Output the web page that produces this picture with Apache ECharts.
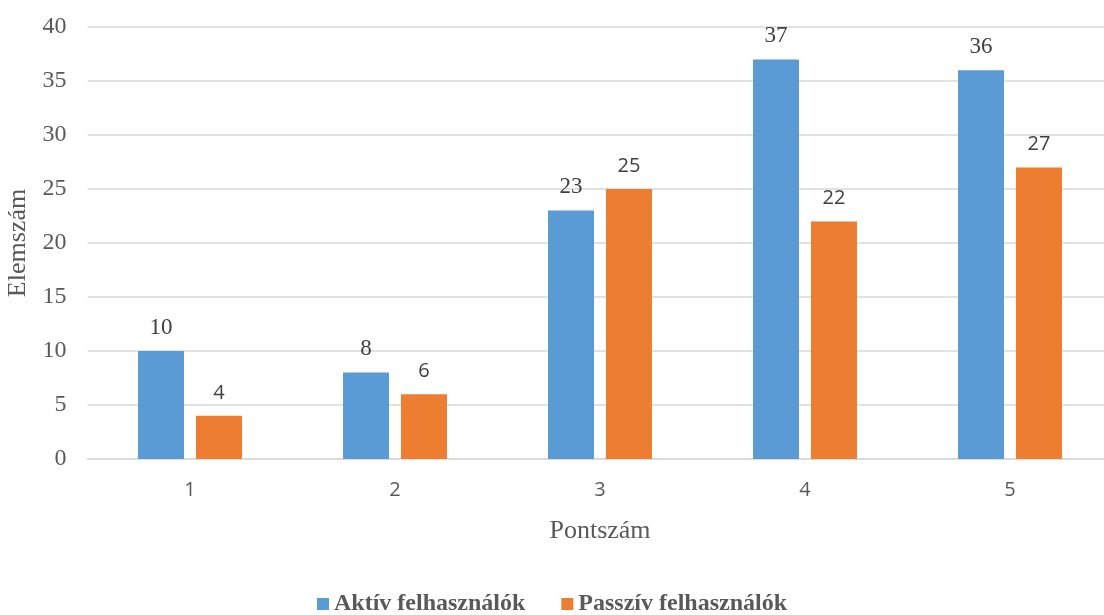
<!DOCTYPE html>
<html>
<head>
<meta charset="utf-8">
<script src="https://cdn.jsdelivr.net/npm/echarts@6/dist/echarts.min.js"></script>
<style>
	html, body { margin: 0; padding: 0; background: #fff; }
	#chart { width: 1104px; height: 615px; }
</style>
</head>
<body>
<div id="chart"></div>
<script>
// adatok
var categories = ['1', '2', '3', '4', '5'];
var aktiv = [10, 8, 23, 37, 36];
var passziv = [4, 6, 25, 22, 27];
var seriesNames = ['Aktív felhasználók', 'Passzív felhasználók'];

var myChart = echarts.init(document.getElementById('chart'));
var option = {
	backgroundColor: '#fff',
	animation: false,
	legend: {
		bottom: -6,
		left: 'center',
		itemWidth: 12,
		itemHeight: 12,
		itemGap: 36,
		icon: 'rect',
		textStyle: {
			color: '#595959',
			fontSize: 24,
			fontWeight: 'bold',
			fontFamily: 'Liberation Serif'
		},
		data: seriesNames
	},
	grid: {
		left: 87.5,
		width: 1025,
		top: 27,
		bottom: 156,
		containLabel: false,
		outerBoundsMode: 'none'
	},
	xAxis: {
		type: 'category',
		data: categories,
		name: 'Pontszám',
		nameLocation: 'middle',
		nameGap: 59,
		nameTextStyle: {
			color: '#595959',
			fontSize: 26,
			fontFamily: 'Liberation Serif'
		},
		axisLine: { lineStyle: { color: '#d9d9d9', width: 1.5 } },
		axisTick: { show: false },
		axisLabel: {
			color: '#595959',
			fontSize: 20,
			fontFamily: 'Open Sans',
			margin: 21
		}
	},
	yAxis: {
		type: 'value',
		min: 0,
		max: 40,
		interval: 5,
		name: 'Elemszám',
		nameLocation: 'middle',
		nameGap: 55,
		nameTextStyle: {
			color: '#595959',
			fontSize: 26,
			fontFamily: 'Liberation Serif'
		},
		axisLine: { show: false },
		axisTick: { show: false },
		splitLine: { lineStyle: { color: '#d9d9d9', width: 1.5 } },
		axisLabel: {
			color: '#595959',
			fontSize: 24,
			fontFamily: 'Liberation Serif',
			margin: 21
		}
	},
	series: [{
		name: seriesNames[0],
		type: 'bar',
		data: aktiv,
		barWidth: 46,
		barGap: '26%',
		itemStyle: { color: '#5b9bd5' },
		label: {
			show: true,
			position: 'top',
			distance: 12,
			color: '#404040',
			fontSize: 23,
			fontFamily: 'Liberation Serif'
		}
	}, {
		name: seriesNames[1],
		type: 'bar',
		data: passziv,
		barWidth: 46,
		barGap: '26%',
		itemStyle: { color: '#ed7d31' },
		label: {
			show: true,
			position: 'top',
			distance: 13,
			color: '#404040',
			fontSize: 20,
			fontFamily: 'Open Sans'
		}
	}]
};
myChart.setOption(option);
</script>
</body>
</html>
